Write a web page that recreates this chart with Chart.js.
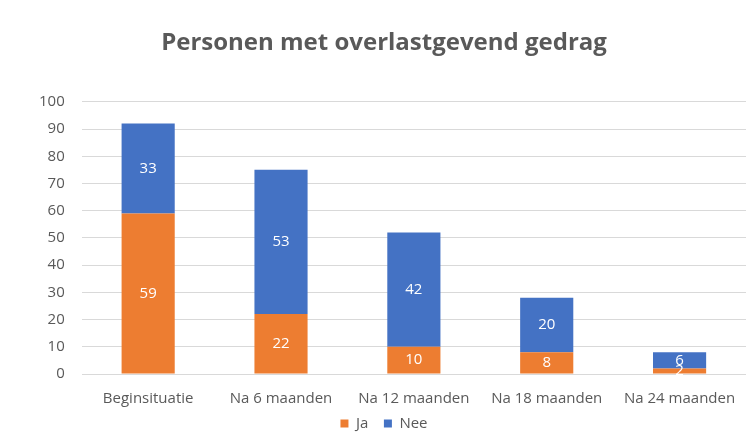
<!DOCTYPE html>
<html>
<head>
<meta charset="utf-8">
<script src="https://cdn.jsdelivr.net/npm/chart.js@4"></script>
<style>
  body { margin: 0; background: #fff; }
  #wrap { width: 746px; height: 446px; }
</style>
</head>
<body>
<div id="wrap"><canvas id="myChart"></canvas></div>
<script>
const categories = ["Beginsituatie", "Na 6 maanden", "Na 12 maanden", "Na 18 maanden", "Na 24 maanden"];
const jaValues = [59, 22, 10, 8, 2];
const neeValues = [33, 53, 42, 20, 6];

// white value labels in the middle of each segment
const barLabels = {
  id: "barLabels",
  afterDatasetsDraw(chart) {
    const ctx = chart.ctx;
    ctx.save();
    ctx.fillStyle = "#ffffff";
    ctx.font = "15px 'Open Sans', sans-serif";
    ctx.textAlign = "center";
    ctx.textBaseline = "middle";
    chart.data.datasets.forEach((ds, i) => {
      chart.getDatasetMeta(i).data.forEach((bar, j) => {
        const mid = (bar.y + bar.base) / 2;
        ctx.fillText(ds.data[j], bar.x, mid);
      });
    });
    ctx.restore();
  }
};

new Chart("myChart", {
  type: "bar",
  data: {
    labels: categories,
    datasets: [
      { label: "Ja", data: jaValues, backgroundColor: "#ED7D31" },
      { label: "Nee", data: neeValues, backgroundColor: "#4472C4" }
    ]
  },
  options: {
    responsive: true,
    maintainAspectRatio: false,
    animation: false,
    layout: { padding: { left: 22, right: 0, top: 29, bottom: 5 } },
    datasets: { bar: { barPercentage: 0.4, categoryPercentage: 1 } },
    plugins: {
      title: {
        display: true,
        text: "Personen met overlastgevend gedrag",
        color: "#595959",
        font: { family: "'Open Sans', sans-serif", size: 24, weight: "bold" },
        padding: { top: 0, bottom: 44 }
      },
      legend: {
        position: "bottom",
        labels: {
          color: "#595959",
          font: { family: "'Open Sans', sans-serif", size: 15 },
          boxWidth: 8,
          boxHeight: 8,
          padding: 0,
          // padding 0 keeps the legend tight under the axis, so space the items with trailing blanks
          generateLabels(chart) {
            const items = Chart.defaults.plugins.legend.labels.generateLabels(chart);
            return items.map((it, i) => i < items.length - 1 ? { ...it, text: it.text + "    " } : it);
          }
        }
      },
      tooltip: { enabled: false }
    },
    scales: {
      x: {
        stacked: true,
        grid: { display: false },
        border: { display: false },
        ticks: { color: "#595959", padding: 8, font: { family: "'Open Sans', sans-serif", size: 15 } }
      },
      y: {
        stacked: true,
        min: 0,
        max: 100,
        ticks: { stepSize: 10, color: "#595959", padding: 17, font: { family: "'Open Sans', sans-serif", size: 15 } },
        grid: { color: "#d9d9d9", drawTicks: false },
        border: { display: false }
      }
    }
  },
  plugins: [barLabels]
});
</script>
</body>
</html>
